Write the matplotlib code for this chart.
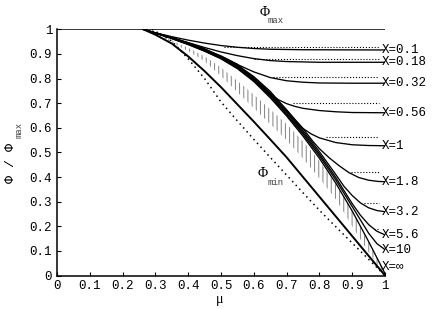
import numpy as np
import matplotlib
matplotlib.use("Agg")
import matplotlib.pyplot as plt

plt.rcParams['font.family'] = ['Liberation Mono', 'DejaVu Sans Mono']
plt.rcParams['hatch.linewidth'] = 0.7

## grid of mu values the curves were read on
mu = [0.263, 0.30, 0.35, 0.40, 0.45, 0.50, 0.55, 0.60, 0.65, 0.70, 0.75, 0.80, 0.85, 0.90, 0.95, 1.00]

## solid curves, one per X (mu, Phi/Phimax)
x_labels = ['X=0.1', 'X=0.18', 'X=0.32', 'X=0.56', 'X=1', 'X=1.8', 'X=3.2', 'X=5.6', 'X=10', 'X=\u221e']
label_y = [0.916, 0.866, 0.781, 0.661, 0.527, 0.381, 0.259, 0.164, 0.104, 0.036]

curves = {
    'X=0.1': ([0.263, 0.30, 0.35, 0.40, 0.45, 0.50, 0.55, 0.60, 0.65, 0.75, 1.0],
              [1.0, 0.986, 0.970, 0.956, 0.944, 0.934, 0.927, 0.922, 0.919, 0.917, 0.916]),
    'X=0.18': ([0.263, 0.30, 0.35, 0.40, 0.45, 0.50, 0.55, 0.60, 0.65, 0.70, 0.80, 1.0],
               [1.0, 0.985, 0.966, 0.946, 0.926, 0.908, 0.893, 0.881, 0.873, 0.869, 0.866, 0.866]),
    'X=0.32': ([0.263, 0.30, 0.35, 0.40, 0.45, 0.50, 0.55, 0.60, 0.65, 0.70, 0.75, 0.80, 0.90, 1.0],
               [1.0, 0.985, 0.966, 0.945, 0.921, 0.888, 0.857, 0.827, 0.804, 0.791, 0.785, 0.782, 0.781, 0.781]),
    'X=0.56': ([0.263, 0.30, 0.35, 0.40, 0.45, 0.50, 0.55, 0.60, 0.625, 0.65, 0.675, 0.70, 0.725, 0.75, 0.80, 0.85, 0.90, 1.0],
               [1.0, 0.985, 0.966, 0.944, 0.919, 0.892, 0.858, 0.795, 0.765, 0.737, 0.714, 0.698, 0.687, 0.679, 0.670, 0.665, 0.662, 0.661]),
    'X=1': ([0.263, 0.30, 0.35, 0.40, 0.45, 0.50, 0.55, 0.60, 0.65, 0.70, 0.725, 0.75, 0.775, 0.80, 0.85, 0.90, 0.95, 1.0],
            [1.0, 0.985, 0.966, 0.943, 0.918, 0.890, 0.855, 0.808, 0.748, 0.672, 0.630, 0.597, 0.575, 0.559, 0.540, 0.531, 0.528, 0.527]),
    'X=1.8': ([0.263, 0.30, 0.35, 0.40, 0.45, 0.50, 0.55, 0.60, 0.65, 0.70, 0.75, 0.78, 0.80, 0.83, 0.86, 0.89, 0.92, 0.95, 0.98, 1.0],
              [1.0, 0.985, 0.965, 0.942, 0.916, 0.888, 0.852, 0.804, 0.742, 0.673, 0.597, 0.545, 0.515, 0.478, 0.446, 0.418, 0.398, 0.387, 0.382, 0.381]),
    'X=3.2': ([0.263, 0.30, 0.35, 0.40, 0.45, 0.50, 0.55, 0.60, 0.65, 0.70, 0.75, 0.80, 0.85, 0.875, 0.90, 0.925, 0.95, 0.975, 1.0],
              [1.0, 0.985, 0.965, 0.941, 0.915, 0.886, 0.849, 0.800, 0.737, 0.666, 0.588, 0.503, 0.410, 0.362, 0.325, 0.295, 0.275, 0.264, 0.259]),
    'X=5.6': ([0.263, 0.30, 0.35, 0.40, 0.45, 0.50, 0.55, 0.60, 0.65, 0.70, 0.75, 0.80, 0.85, 0.90, 0.925, 0.95, 0.975, 1.0],
              [1.0, 0.985, 0.964, 0.940, 0.914, 0.884, 0.846, 0.796, 0.732, 0.660, 0.581, 0.494, 0.398, 0.292, 0.245, 0.207, 0.180, 0.165]),
    'X=10': ([0.263, 0.30, 0.35, 0.40, 0.45, 0.50, 0.55, 0.60, 0.65, 0.70, 0.75, 0.80, 0.85, 0.90, 0.95, 0.975, 1.0],
             [1.0, 0.984, 0.963, 0.939, 0.912, 0.882, 0.843, 0.792, 0.727, 0.654, 0.574, 0.486, 0.388, 0.280, 0.172, 0.130, 0.105]),
    'X=\u221e': (mu,
                 [1.0, 0.984, 0.962, 0.938, 0.911, 0.880, 0.840, 0.788, 0.722, 0.648, 0.566, 0.476, 0.375, 0.262, 0.138, 0.008]),
}

## dotted asymptote lines (start mu, level)
dot_start = [0.51, 0.60, 0.66, 0.72, 0.82, 0.895, 0.935, 0.965]
dot_level = [0.929, 0.881, 0.805, 0.702, 0.564, 0.422, 0.293, 0.19]
dot_end = 0.982

## lower solid line
low_y = [1.0, 0.978, 0.942, 0.890, 0.830, 0.765, 0.695, 0.625, 0.553, 0.480, 0.400, 0.320, 0.240, 0.160, 0.080, 0.0]

## Phi_min dotted line
phimin_mu = [0.29, 0.35, 0.40, 0.45, 0.50, 0.55, 0.60, 0.65, 0.70, 0.75, 0.80, 0.85, 0.90, 0.95, 1.0]
phimin_y = [1.0, 0.952, 0.88, 0.80, 0.705, 0.628, 0.553, 0.48, 0.408, 0.336, 0.265, 0.198, 0.132, 0.066, 0.0]

## hatched band between the bundle and the lower line
band_up = [1.0, 0.98, 0.955, 0.925, 0.89, 0.845, 0.79, 0.735, 0.675, 0.615, 0.545, 0.465, 0.37, 0.26, 0.135, 0.006]
band_lo = [1.0, 0.975, 0.945, 0.912, 0.87, 0.81, 0.745, 0.68, 0.615, 0.55, 0.475, 0.395, 0.31, 0.20, 0.095, 0.0]

fig = plt.figure(figsize=(4.36, 3.09), dpi=100)
ax = fig.add_axes([57/436, 1-275.5/309, 328/436, 246.2/309])

ax.fill_between(mu, band_lo, band_up, facecolor='none', edgecolor='0.5', hatch='||||', linewidth=0)

ax.plot([0, 1], [1, 1], 'k', lw=1.1)
ax.plot(mu, low_y, 'k', lw=1.4)
ax.plot(phimin_mu, phimin_y, color='k', lw=1.1, linestyle=(0, (1, 2.4)))

for i in range(len(dot_start)):
    ax.plot([dot_start[i], dot_end], [dot_level[i], dot_level[i]], color='k', lw=0.8, linestyle=':')

for name in x_labels:
    m, v = curves[name]
    ax.plot(m, v, 'k', lw=0.95)

for name, yl in zip(x_labels, label_y):
    ax.text(0.99, yl, name, fontsize=9, ha='left', va='center')

## Phi_max and Phi_min labels
ax.text(0.634, 1.07, '\u03a6', family='Liberation Serif', fontsize=10, ha='center', va='center', clip_on=False)
ax.text(0.643, 1.037, 'max', fontsize=6.5, color='0.25', ha='left', va='center', clip_on=False)
ax.text(0.628, 0.416, '\u03a6', family='Liberation Serif', fontsize=10, ha='center', va='center')
ax.text(0.643, 0.378, 'min', fontsize=6.5, color='0.25', ha='left', va='center')

ax.set_xlim(0, 1)
ax.set_ylim(0, 1)
ax.set_xticks(np.arange(0, 1.01, 0.1))
ax.set_xticklabels(['0', '0.1', '0.2', '0.3', '0.4', '0.5', '0.6', '0.7', '0.8', '0.9', '1'])
ax.set_yticks(np.arange(0, 1.01, 0.1))
ax.set_yticklabels(['0', '0.1', '0.2', '0.3', '0.4', '0.5', '0.6', '0.7', '0.8', '0.9', '1'])
ax.tick_params(direction='in', length=3, width=0.8, labelsize=9, pad=3.5)
ax.spines['top'].set_visible(False)
ax.spines['right'].set_visible(False)
ax.spines['left'].set_linewidth(1.1)
ax.spines['bottom'].set_linewidth(1.1)

fig.text(220/436, 1-300/309, '\u03bc', family='Liberation Serif', fontsize=10, ha='center', va='center')
fig.text(11/436, 1-163/309, '\u03a6 / \u03a6', fontsize=9.5, rotation=90, ha='center', va='center')
fig.text(19.5/436, 1-130/309, 'max', fontsize=6.5, color='0.25', rotation=90, ha='center', va='center')

fig.savefig('out.png', dpi=100)
